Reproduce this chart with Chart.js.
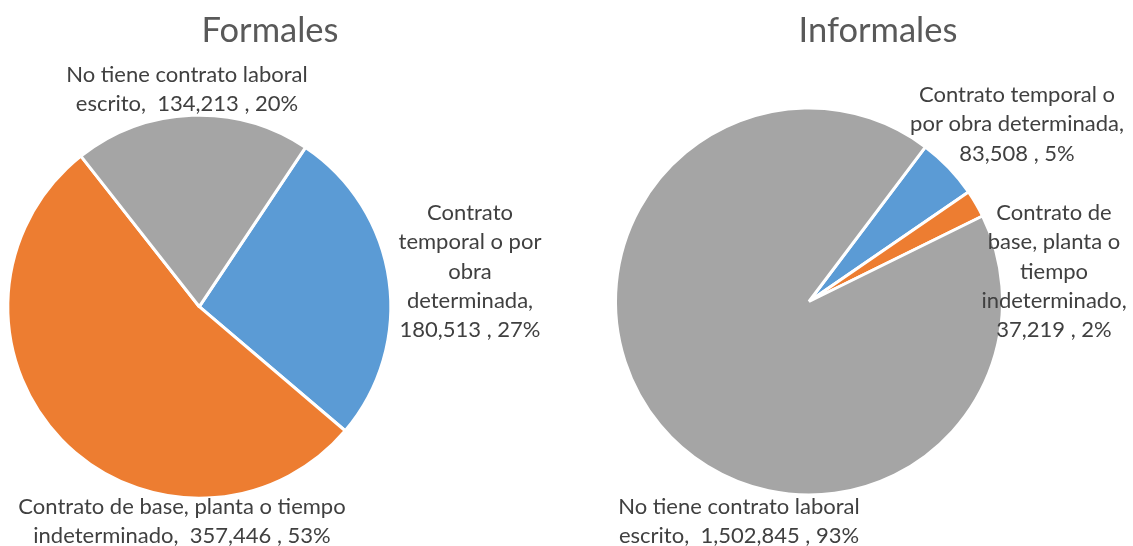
<!DOCTYPE html>
<html><head><meta charset="utf-8">
<script src="https://cdn.jsdelivr.net/npm/chart.js@4"></script>
<style>
html,body{margin:0;padding:0;background:#fff;overflow:hidden}
#wrap{position:relative;width:1133px;height:546px}
.c{position:absolute;top:0;height:546px}
#l{left:0;width:566px}
#r{left:566px;width:567px}
</style></head><body>
<div id="wrap"><div class="c" id="l"><canvas id="cl"></canvas></div><div class="c" id="r"><canvas id="cr"></canvas></div></div>
<script>
// ---- data ----
const categories = ["Contrato temporal o por obra determinada", "Contrato de base, planta o tiempo indeterminado", "No tiene contrato laboral escrito"];
const formalesValues = [180513, 357446, 134213];
const informalesValues = [83508, 37219, 1502845];
const sliceColors = ["#5B9BD5", "#ED7D31", "#A5A5A5"];
const titles = ["Formales", "Informales"];
// label text lines ({v} = value, {p} = percent)
const formalesLabelLines = [
  ["Contrato", "temporal o por", "obra", "determinada,", "{v} , {p}%"],
  ["Contrato de base, planta o tiempo", "indeterminado,  {v} , {p}%"],
  ["No tiene contrato laboral", "escrito,  {v} , {p}%"]
];
const informalesLabelLines = [
  ["Contrato temporal o", "por obra determinada,", "{v} , {p}%"],
  ["Contrato de", "base, planta o", "tiempo", "indeterminado,", "{v} , {p}%"],
  ["No tiene contrato laboral", "escrito,  {v} , {p}%"]
];

// ---- layout (canvas-local) ----
const layouts = [
  { pad: {left: 0, right: 167.4, top: 67.4, bottom: 0}, radius: 191.5, rotation: 33.7,
    title: {x: 270, y: 31}, labels: [{x: 470, y: 213}, {x: 182, y: 507}, {x: 187, y: 75}] },
  { pad: {left: 0, right: 81, top: 57, bottom: 0}, radius: 193.5, rotation: 37,
    title: {x: 312, y: 31}, labels: [{x: 451, y: 95}, {x: 488, y: 213}, {x: 173, y: 507}] }
];
const LINE_H = 29.3;
const LABEL_FONT = '22px Lato, "Open Sans", sans-serif';
const TITLE_FONT = '34.5px Lato, "Open Sans", sans-serif';

const labelPlugin = {
  id: 'sliceLabels',
  afterDraw(chart) {
    const o = chart.options.plugins.sliceLabels;
    const ctx = chart.ctx;
    const vals = chart.data.datasets[0].data;
    const total = vals.reduce((a, b) => a + b, 0);
    ctx.save();
    ctx.textAlign = 'center';
    ctx.textBaseline = 'middle';
    ctx.fillStyle = '#595959';
    ctx.font = TITLE_FONT;
    ctx.fillText(o.title, o.layout.title.x, o.layout.title.y);
    ctx.fillStyle = '#404040';
    ctx.font = LABEL_FONT;
    vals.forEach((v, i) => {
      const p = Math.round(v / total * 100);
      const vs = v.toLocaleString('en-US');
      const pos = o.layout.labels[i];
      o.lines[i].forEach((ln, k) => {
        const t = ln.replace('{v}', vs).replace('{p}', p);
        ctx.fillText(t, pos.x, pos.y + k * LINE_H);
      });
    });
    ctx.restore();
  }
};

function makePie(id, values, lines, title, layout) {
  return new Chart(document.getElementById(id), {
    type: 'pie',
    data: {
      labels: categories,
      datasets: [{ data: values, backgroundColor: sliceColors, borderColor: '#ffffff', borderWidth: 3 }]
    },
    options: {
      responsive: true, maintainAspectRatio: false, animation: false,
      radius: layout.radius, rotation: layout.rotation,
      layout: { padding: layout.pad },
      plugins: {
        legend: { display: false }, tooltip: { enabled: false }, title: { display: false },
        sliceLabels: { title: title, lines: lines, layout: layout }
      }
    },
    plugins: [labelPlugin]
  });
}
makePie('cl', formalesValues, formalesLabelLines, titles[0], layouts[0]);
makePie('cr', informalesValues, informalesLabelLines, titles[1], layouts[1]);
</script>
</body></html>
